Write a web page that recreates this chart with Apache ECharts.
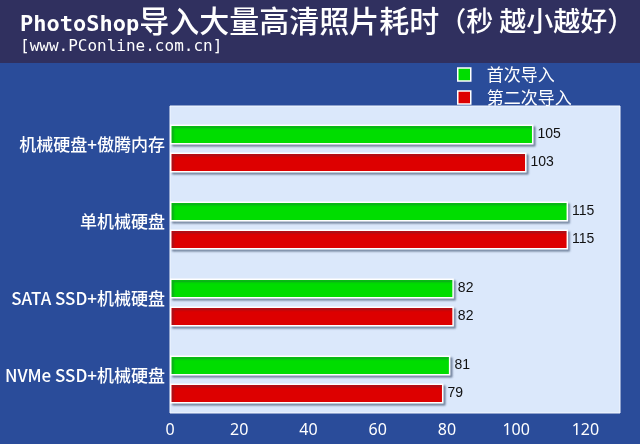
<!DOCTYPE html>
<html><head><meta charset="utf-8">
<script src="https://cdn.jsdelivr.net/npm/echarts@6/dist/echarts.min.js"></script>
<style>html,body{margin:0;padding:0;background:#2a4c9a;}#c{width:640px;height:444px;}</style>
</head><body><div id="c"></div>
<script>
const categories = ['机械硬盘+傲腾内存', '单机械硬盘', 'SATA SSD+机械硬盘', 'NVMe SSD+机械硬盘'];
const firstImport = [105, 115, 82, 81];
const secondImport = [103, 115, 82, 79];
const seriesNames = ['首次导入', '第二次导入'];
const xTicks = [0, 20, 40, 60, 80, 100, 120];

const chart = echarts.init(document.getElementById('c'));
const barStyle = (color) => ({
  color: color, borderColor: '#ffffff', borderWidth: 1.5,
  shadowColor: 'rgba(40,60,90,0.45)', shadowOffsetX: 2, shadowOffsetY: 2, shadowBlur: 2
});
chart.setOption({
  backgroundColor: '#2a4c9a',
  animation: false,
  graphic: [
    { type: 'rect', z: -10, shape: { x: 0, y: 0, width: 640, height: 63 }, style: { fill: '#30305f' } },
    { type: 'rect', z: -10, shape: { x: 170, y: 106, width: 450, height: 307 }, style: { fill: '#dbe8fb', stroke: '#f4f8ff', lineWidth: 1 } },
    { type: 'text', left: 20, top: 6, style: {
        text: '{a|PhotoShop}{b|导入大量高清照片耗时}{c|（秒 越小越好）}',
        rich: {
          a: { fill: '#ffffff', fontSize: 22, fontFamily: 'DejaVu Sans Mono', fontWeight: 'bold', verticalAlign: 'bottom', lineHeight: 30 },
          b: { fill: '#ffffff', fontSize: 30, fontFamily: 'Noto Sans CJK SC', fontWeight: 500, lineHeight: 30 },
          c: { fill: '#ffffff', fontSize: 27, fontFamily: 'Noto Sans CJK SC', fontWeight: 500, lineHeight: 30 }
        } } },
    { type: 'text', left: 20, top: 39, style: { text: '[www.PConline.com.cn]', fill: '#ffffff', font: '16px "DejaVu Sans Mono"' } }
  ],
  legend: {
    orient: 'vertical', left: 452, top: 61, itemWidth: 13, itemHeight: 13, itemGap: 6,
    textStyle: { color: '#ffffff', fontSize: 17, lineHeight: 17, fontFamily: 'Noto Sans CJK SC', padding: [0, 0, 0, 11] },
    data: seriesNames.map(n => ({ name: n, icon: 'rect', itemStyle: { borderColor: '#fff', borderWidth: 1.5 } }))
  },
  grid: { left: 170, right: 20, top: 110, height: 308, containLabel: false },
  xAxis: {
    type: 'value', min: 0, max: 130, interval: 20,
    axisLine: { show: false }, axisTick: { show: false }, splitLine: { show: false },
    axisLabel: { color: '#ffffff', fontSize: 16, margin: 4, fontFamily: 'Noto Sans',
      showMaxLabel: false,
      formatter: v => xTicks.indexOf(v) >= 0 ? String(v) : '' }
  },
  yAxis: {
    type: 'category', inverse: true, data: categories,
    axisLine: { show: false }, axisTick: { show: false },
    axisLabel: { color: '#ffffff', fontSize: 17, margin: 5, fontFamily: 'Noto Sans CJK SC', fontWeight: 500,
      verticalAlign: 'bottom', lineHeight: 8 }
  },
  series: [
    { name: seriesNames[0], type: 'bar', data: firstImport, barWidth: 20, barGap: '40%',
      itemStyle: barStyle('#00dd00'),
      label: { show: true, position: 'right', distance: 4, color: '#111', fontSize: 14, fontFamily: 'Liberation Sans' } },
    { name: seriesNames[1], type: 'bar', data: secondImport, barWidth: 20, barGap: '40%',
      itemStyle: barStyle('#dd0000'),
      label: { show: true, position: 'right', distance: 4, color: '#111', fontSize: 14, fontFamily: 'Liberation Sans' } }
  ]
});
</script></body></html>
